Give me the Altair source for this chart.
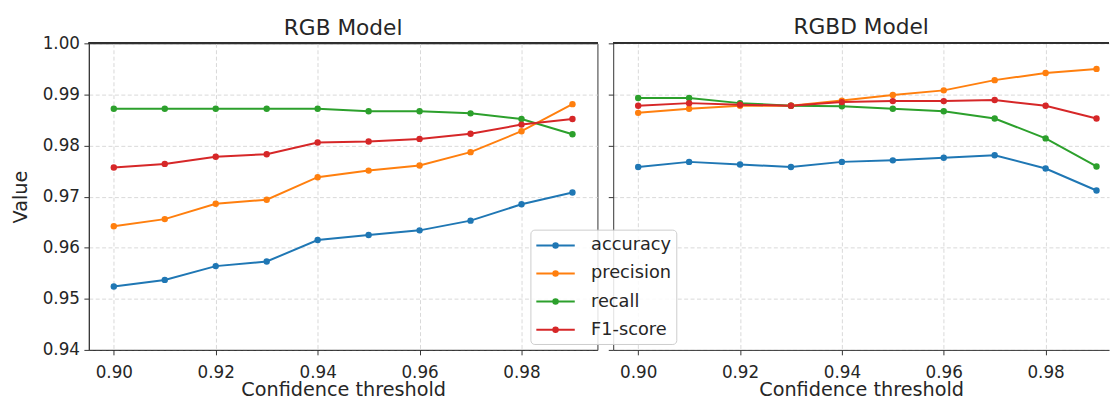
import altair as alt
import pandas as pd

thresholds = [0.90, 0.91, 0.92, 0.93, 0.94, 0.95, 0.96, 0.97, 0.98, 0.99]
metrics = ["accuracy", "precision", "recall", "F1-score"]
colors = ["#1f77b4", "#ff7f0e", "#2ca02c", "#d62728"]

rgb_accuracy = [0.9524, 0.9537, 0.9564, 0.9573, 0.9615, 0.9625, 0.9634, 0.9653, 0.9685, 0.9708]
rgb_precision = [0.9642, 0.9656, 0.9686, 0.9694, 0.9738, 0.9751, 0.9761, 0.9787, 0.9828, 0.9881]
rgb_recall = [0.9872, 0.9872, 0.9872, 0.9872, 0.9872, 0.9867, 0.9867, 0.9863, 0.9852, 0.9822]
rgb_f1 = [0.9757, 0.9764, 0.9778, 0.9783, 0.9806, 0.9808, 0.9813, 0.9823, 0.9841, 0.9852]

rgbd_accuracy = [0.9758, 0.9768, 0.9763, 0.9758, 0.9768, 0.9771, 0.9776, 0.9781, 0.9755, 0.9712]
rgbd_precision = [0.9864, 0.9872, 0.9878, 0.9878, 0.9888, 0.9899, 0.9908, 0.9928, 0.9942, 0.9950]
rgbd_recall = [0.9893, 0.9893, 0.9883, 0.9878, 0.9877, 0.9872, 0.9867, 0.9853, 0.9814, 0.9759]
rgbd_f1 = [0.9878, 0.9883, 0.9880, 0.9878, 0.9885, 0.9887, 0.9887, 0.9889, 0.9878, 0.9853]

x_ticks = [0.90, 0.92, 0.94, 0.96, 0.98]
y_ticks = [0.94, 0.95, 0.96, 0.97, 0.98, 0.99, 1.00]


def long_table(series):
    rows = []
    for m, vals in zip(metrics, series):
        for t, v in zip(thresholds, vals):
            rows.append({"thr": t, "metric": m, "value": v})
    return pd.DataFrame(rows)


df_rgb = long_table([rgb_accuracy, rgb_precision, rgb_recall, rgb_f1])
df_rgbd = long_table([rgbd_accuracy, rgbd_precision, rgbd_recall, rgbd_f1])

INK = "#262626"
SPINE = "#333333"

# legend glyph: a line with a dot (unit scale = 10 px)
LEG_PATH = ("M-1.95,0H1.95"
            "M-0.12,0a0.12,0.12 0 1,0 0.24,0a0.12,0.12 0 1,0 -0.24,0"
            "M-0.23,0a0.23,0.23 0 1,0 0.46,0a0.23,0.23 0 1,0 -0.46,0")

color_scale = alt.Scale(domain=metrics, range=colors)
legend = alt.Legend(
    title=None, orient="none", legendX=448, legendY=189,
    symbolType=LEG_PATH, symbolSize=400, symbolStrokeWidth=2, symbolOpacity=1,
    symbolOffset=9.5,
    labelFontSize=18, labelColor=INK, labelOffset=25, rowPadding=8.5, padding=5,
    fillColor="rgba(255,255,255,0.85)", strokeColor="#cccccc", cornerRadius=4,
)


def panel(df, title, x_domain, width, show_y_labels, with_legend, title_offset):
    x = alt.X("thr:Q", scale=alt.Scale(domain=x_domain, nice=False, zero=False),
              axis=alt.Axis(values=x_ticks, format=".2f", title="Confidence threshold",
                            domain=True))
    if show_y_labels:
        yaxis = alt.Axis(values=y_ticks, format=".2f", title="Value", domain=True)
    else:
        yaxis = alt.Axis(values=y_ticks, labels=False, title=None, domain=True)
    y = alt.Y("value:Q", scale=alt.Scale(domain=[0.94, 1.00], nice=False, zero=False), axis=yaxis)
    base = alt.Chart(df)
    top = base.mark_rule(color=SPINE, strokeWidth=1).encode(y=alt.datum(1.0))
    lines = base.mark_line(strokeWidth=2).encode(
        x=x, y=y,
        color=alt.Color("metric:N", scale=color_scale, legend=legend if with_legend else None),
    )
    pts = base.mark_circle(size=42, opacity=1).encode(
        x=x, y=y,
        color=alt.Color("metric:N", scale=color_scale, legend=None),
    )
    ch = alt.layer(lines, pts, top).properties(
        width=width, height=311,
        title=alt.TitleParams(title, fontSize=22, fontWeight="normal", color=INK,
                              baseline="alphabetic", offset=title_offset, anchor="middle",
                              frame="group"),
    )
    if not show_y_labels:
        ch = ch.properties(view=alt.ViewBackground(stroke="transparent"))
    return ch


left = panel(df_rgb, "RGB Model", [0.8951, 0.9949], 516, True, True, -22.2)
right = panel(df_rgbd, "RGBD Model", [0.8951, 0.99245], 503, False, False, -13.2)

chart = alt.hconcat(left, right, spacing=9).properties(
    padding={"left": 2, "top": 5.0, "right": 0, "bottom": 0}
).configure(
    font="DejaVu Sans"
).configure_view(
    stroke=SPINE, strokeWidth=1
).configure_axis(
    labelFontSize=17, titleFontSize=19.5, titleFontWeight="normal",
    labelColor=INK, titleColor=INK, tickColor=SPINE, tickSize=5, tickWidth=1,
    domainColor=SPINE, domainWidth=1,
    gridColor="#d4d4d4", gridDash=[4, 2.5], gridWidth=0.9,
).configure_axisX(
    labelPadding=9.5, titleBaseline="alphabetic", titleY=46.5,
).configure_axisY(
    labelPadding=4.5, titleBaseline="alphabetic", titleX=-63.3,
)

chart.save("out.html", embed_options={"renderer": "svg", "actions": False})
